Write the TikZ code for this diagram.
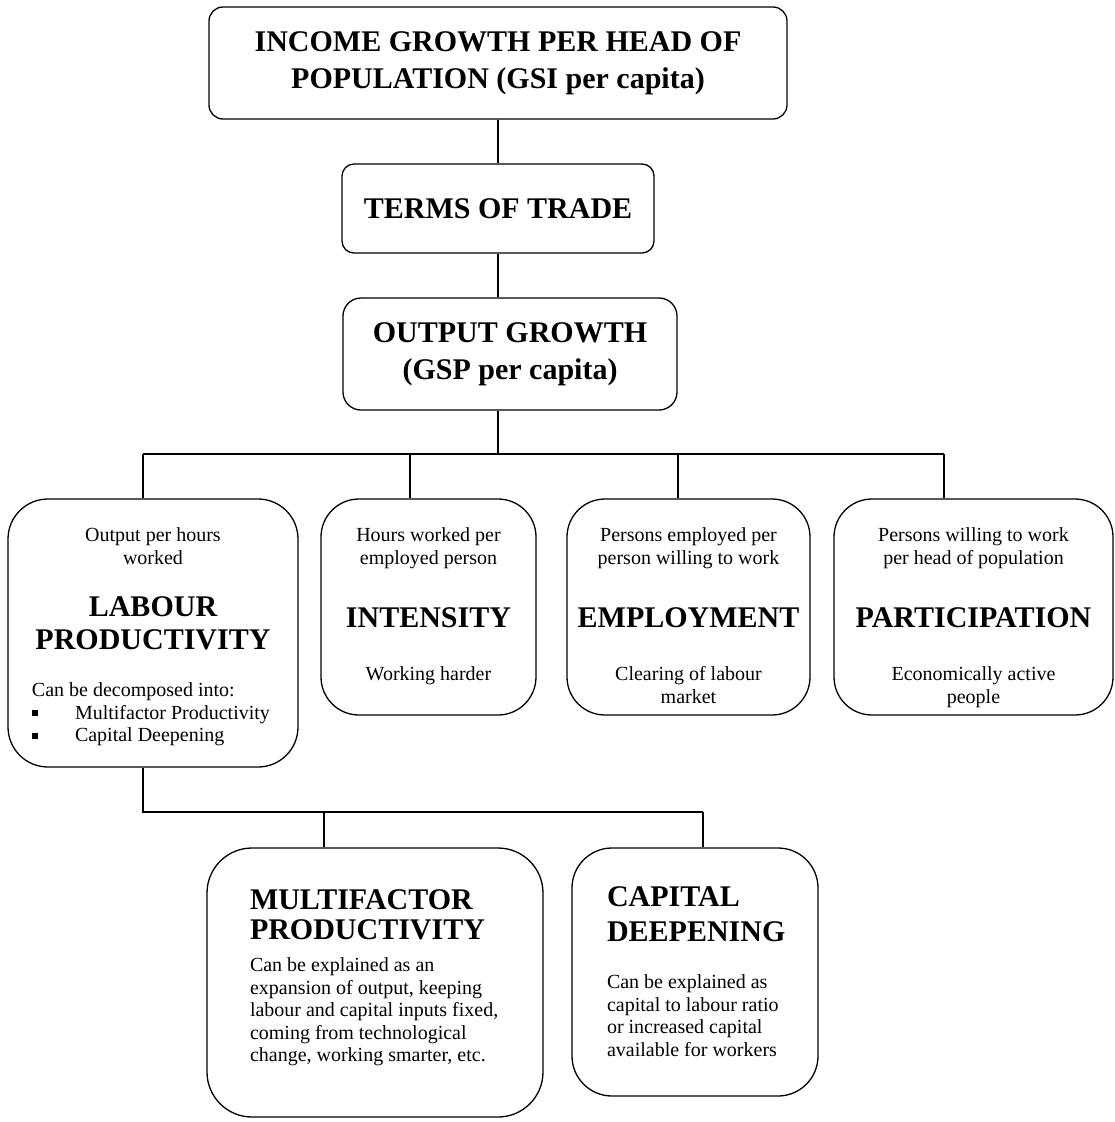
\documentclass[tikz,border=0pt]{standalone}
\usepackage{fontspec}
\setmainfont{Liberation Serif}
\usepackage{tikz}

\newcommand{\smalltxt}{\fontsize{20}{22.5}\selectfont}
\newcommand{\headtxt}{\fontsize{30}{33}\selectfont\bfseries}
\newcommand{\titletxt}{\fontsize{30}{37}\selectfont\bfseries}
\newcommand{\inbox}[3]{\parbox[c][#2][t]{#1}{\centering #3}}
\newcommand{\sqbullet}{\makebox[43pt][l]{\rule[3pt]{6pt}{6pt}}}

\begin{document}
\begin{tikzpicture}[x=1pt, y=-1pt, line width=1.3pt,
	box/.style={rectangle, draw=black, inner sep=0pt, align=center}]
	\useasboundingbox (0,0) rectangle (1114,1122);
	% top of the tree
	\node[box, rounded corners=14pt, minimum width=578pt, minimum height=112pt, font=\titletxt] at (498,63)(income){INCOME GROWTH PER HEAD OF\\POPULATION (GSI per capita)};
	\node[box, rounded corners=12pt, minimum width=312pt, minimum height=89pt, font=\titletxt] at (498,208.5)(terms){TERMS OF TRADE};
	\node[box, rounded corners=18pt, minimum width=334pt, minimum height=112pt, font=\titletxt] at (510,354)(output){OUTPUT GROWTH\\(GSP per capita)};
	% the four components
	\node[box, rounded corners=40pt] at (153,633)(labour){\inbox{290pt}{268pt}{\vspace*{29pt}
		{\smalltxt Output per hours\\worked\par}\vspace{19.5pt}
		{\headtxt LABOUR\\PRODUCTIVITY\par}\vspace{24.5pt}
		{\smalltxt\parbox[t]{242pt}{\raggedright Can be decomposed into:\\\sqbullet Multifactor Productivity\\\sqbullet Capital Deepening}\par}}};
	\node[box, rounded corners=38pt] at (428.5,607)(inten){\inbox{215pt}{216pt}{\vspace*{29pt}
		{\smalltxt Hours worked per\\employed person\par}\vspace{30.5pt}
		{\headtxt INTENSITY\par}\vspace{30.5pt}
		{\smalltxt Working harder\par}}};
	\node[box, rounded corners=38pt] at (688.5,607)(employ){\inbox{243pt}{216pt}{\vspace*{29pt}
		{\smalltxt Persons employed per\\person willing to work\par}\vspace{30.5pt}
		{\headtxt EMPLOYMENT\par}\vspace{30.5pt}
		{\smalltxt Clearing of labour\\market\par}}};
	\node[box, rounded corners=38pt] at (973.5,607)(partic){\inbox{279pt}{216pt}{\vspace*{29pt}
		{\smalltxt Persons willing to work\\per head of population\par}\vspace{30.5pt}
		{\headtxt PARTICIPATION\par}\vspace{30.5pt}
		{\smalltxt Economically active\\people\par}}};
	% labour productivity split
	\node[box, rounded corners=45pt] at (375,982.5)(multi){\inbox{336pt}{269pt}{\vspace*{42pt}
		\parbox[t]{250pt}{\raggedright{\headtxt MULTIFACTOR\\[-3pt]PRODUCTIVITY\par}\vspace{9.5pt}
		{\smalltxt Can be explained as an\\expansion of output, keeping\\labour and capital inputs fixed,\\coming from technological\\change, working smarter, etc.\par}}}};
	\node[box, rounded corners=40pt] at (695,972)(capital){\inbox{246pt}{248pt}{\vspace*{39pt}
		\parbox[t]{176pt}{\raggedright{\headtxt CAPITAL\\[2pt]DEEPENING\par}\vspace{24.5pt}
		{\smalltxt Can be explained as\\capital to labour ratio\\or increased capital\\available for workers\par}}}};
	% connectors
	\coordinate (hub) at (498,454);
	\coordinate (b1) at (143,454);
	\coordinate (b2) at (410,454);
	\coordinate (b3) at (678,454);
	\coordinate (b4) at (944,454);
	\coordinate (c1) at (143,812);
	\coordinate (c2) at (324,812);
	\coordinate (c3) at (703,812);
	\draw (income.south) -- (income.south |- terms.north);
	\draw (terms.south) -- (terms.south |- output.north);
	\draw (terms.south |- output.south) -- (hub);
	\draw (b1) -- (b4);
	\foreach \b/\n in {b1/labour, b2/inten, b3/employ, b4/partic}
		\draw (\b) -- (\b |- \n.north);
	\draw (c1 |- labour.south) -- (c1) -- (c3);
	\draw (c2) -- (c2 |- multi.north);
	\draw (c3) -- (c3 |- capital.north);
\end{tikzpicture}
\end{document}
